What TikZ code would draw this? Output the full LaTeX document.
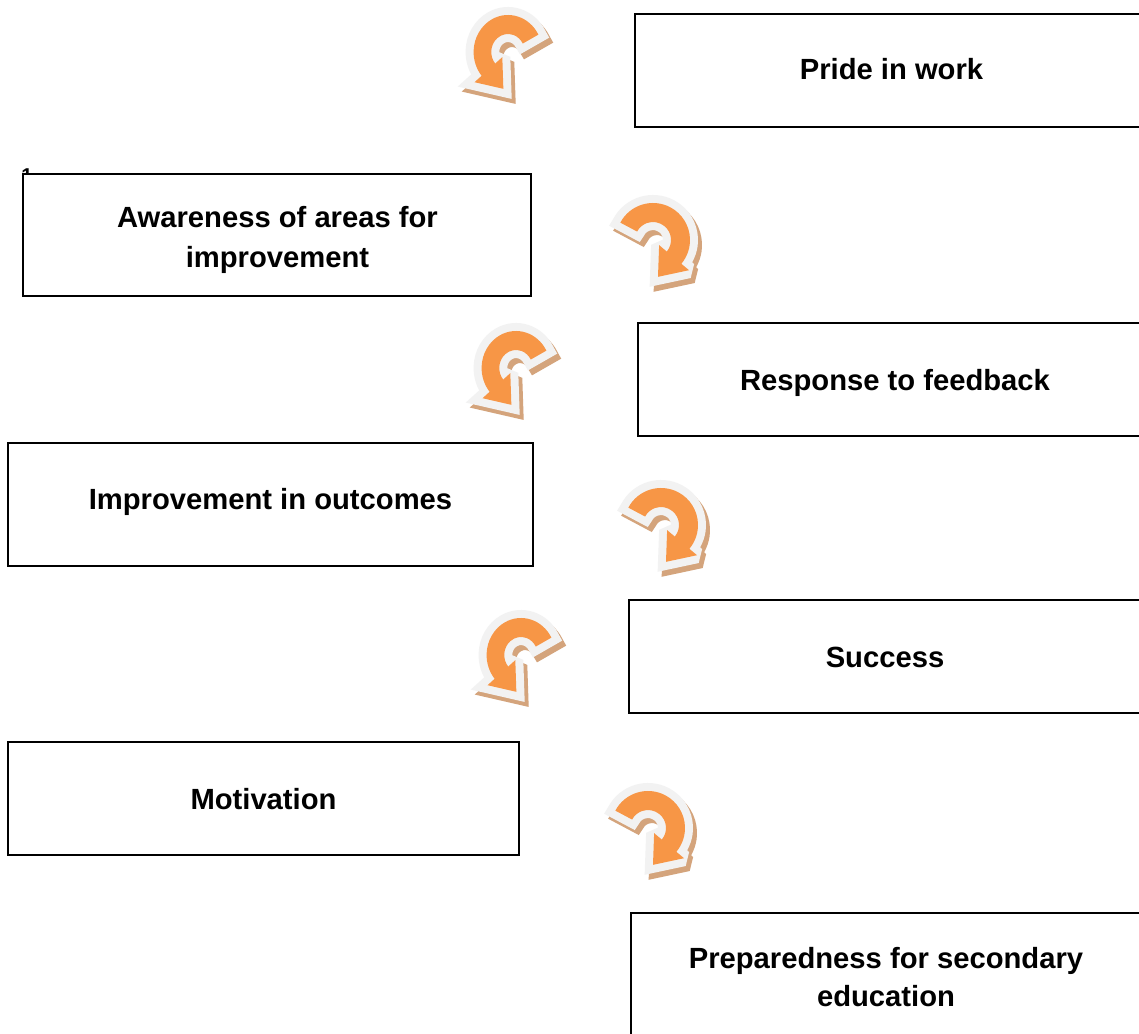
\documentclass[tikz,border=0pt]{standalone}
\usepackage{fontspec}
\setmainfont{Liberation Sans}
\usetikzlibrary{calc}

\definecolor{arroworange}{HTML}{F79646}
\definecolor{arrowrim}{HTML}{F2F2F2}
\definecolor{arrowshade}{HTML}{D4A47C}

% outline of one curled arrow: a ring segment with a triangular head
\newcommand\curlpath{(28:37) arc[start angle=28,end angle=220,radius=37]
  -- (220:47) -- ($(220:27.5)+(-50:25)$) -- (220:8) -- (220:18)
  arc[start angle=220,end angle=28,radius=18] -- cycle}

\tikzset{
  box/.style={draw=black, line width=1.5pt, fill=white, rectangle, inner sep=0pt},
  caption/.style={font=\bfseries\fontsize{21.9}{30}\selectfont, inner sep=0pt, align=center},
  rim/.style={line width=12pt, line join=miter, miter limit=2.2},
  pics/curl/.style={code={
    \begin{scope}[shift={(4,5)}]
      \begin{scope}[yscale=-1,#1]
        \filldraw[arrowshade, rim] \curlpath;
      \end{scope}
    \end{scope}
    \begin{scope}[yscale=-1,#1]
      \filldraw[arrowrim, rim] \curlpath;
      \fill[arroworange] \curlpath;
    \end{scope}
  }},
}

\begin{document}
\begin{tikzpicture}[x=0.75pt, y=-0.75pt]
  \fill[white] (0,0) rectangle (1139,1034);
  \useasboundingbox (0,0) rectangle (1139,1034);

  % stray numeral peeking above the second box
  \node[font=\bfseries\fontsize{15}{18}\selectfont, inner sep=0pt, anchor=base west] (stray) at (21,183) {1};

  % boxes
  \node[box, minimum width=384pt, minimum height=84.75pt] (pride) at (891,70.5) {};
  \node[box, minimum width=381pt, minimum height=91.5pt] (aware) at (277,235) {};
  \node[box, minimum width=384pt, minimum height=84.75pt] (resp) at (894,379.5) {};
  \node[box, minimum width=393.75pt, minimum height=92.25pt] (impr) at (270.5,504.5) {};
  \node[box, minimum width=387pt, minimum height=84.75pt] (succ) at (887,656.5) {};
  \node[box, minimum width=383.25pt, minimum height=84.75pt] (motiv) at (263.5,798.5) {};
  \node[box, minimum width=385.5pt, minimum height=99pt] (prep) at (888,979) {};

  % captions
  \node[caption, anchor=base] (pride-t) at (891.5,79.5) {Pride in work};
  \node[caption] (aware-t) at (277.5,240.2) {Awareness of areas for\\improvement};
  \node[caption, anchor=base] (resp-t) at (895,390) {Response to feedback};
  \node[caption, anchor=base] (impr-t) at (270.5,509) {Improvement in outcomes};
  \node[caption, anchor=base] (succ-t) at (885,667) {Success};
  \node[caption, anchor=base] (motiv-t) at (263.5,809) {Motivation};
  \node[caption, font=\bfseries\fontsize{21.9}{28.3}\selectfont] (prep-t) at (886,976.7) {Preparedness for secondary\\education};

  % curled arrows between the boxes
  \pic at (508,52) {curl={xscale=0.93}};
  \pic at (653,240) {curl={xscale=-1}};
  \pic at (516,368) {curl={xscale=0.93}};
  \pic at (661,525) {curl={xscale=-1}};
  \pic at (521,655) {curl={xscale=0.93}};
  \pic at (648,828) {curl={xscale=-1}};
\end{tikzpicture}
\end{document}
